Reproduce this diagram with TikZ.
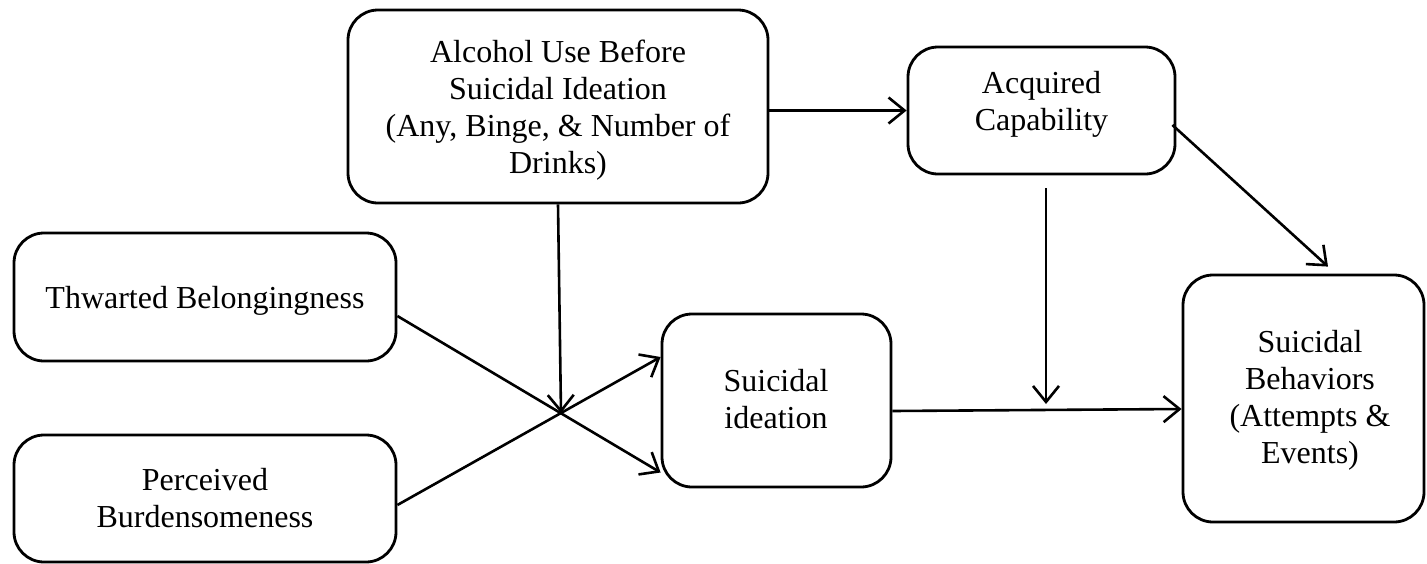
\documentclass[tikz,border=0pt]{standalone}
\usepackage{fontspec}
\setmainfont{Liberation Serif}
\usetikzlibrary{arrows.meta,calc}
\begin{document}
\begin{tikzpicture}[x=1pt,y=-1pt,
  box/.style={draw=black,line width=2.8pt,rounded corners=30pt,inner sep=0pt},
  lbl/.style={align=center,inner sep=0pt,font=\fontsize{32}{37}\selectfont},
  arr/.style={line width=2.6pt,-{Straight Barb[length=16pt,width=26pt,line width=2.6pt]}}]
\useasboundingbox (0,0) rectangle (1427,563);
% boxes
\node[box,minimum width=420pt,minimum height=193pt] (alc) at (558,106.5) {};
\node[box,minimum width=267pt,minimum height=127pt] (acq) at (1041.5,110.5) {};
\node[box,minimum width=382pt,minimum height=128pt] (thw) at (205,297) {};
\node[box,minimum width=382pt,minimum height=127pt] (per) at (205,498.5) {};
\node[box,minimum width=229pt,minimum height=173pt] (ide) at (776.5,400.5) {};
\node[box,minimum width=241pt,minimum height=247pt] (beh) at (1303.5,398.5) {};
% texts
\node[lbl] (alcT) at (558,110) {Alcohol Use Before\\Suicidal Ideation\\(Any, Binge, \& Number of\\Drinks)};
\node[lbl] (acqT) at (1041.5,104) {Acquired\\Capability};
\node[lbl] (thwT) at (205,301) {Thwarted Belongingness};
\node[lbl] (perT) at (205,498.5) {Perceived\\Burdensomeness};
\node[lbl] (ideT) at (776,399.5) {Suicidal\\ideation};
\node[lbl] (behT) at (1310,400.5) {Suicidal\\Behaviors\\(Attempts \&\\Events)};
% connectors
\coordinate (cross) at (561,413);
\coordinate (acqEnd) at (1046,404);
\draw[arr] (alc.east |- acq.west) -- (acq.west);
\draw[arr] (alc.south) -- (cross);
\draw[arr] ($(thw.east)+(0,19)$) -- ($(ide.west)+(0,72)$);
\draw[arr] ($(per.east)+(0,6.5)$) -- ($(ide.west)+(0,-43.5)$);
\draw[arr] ($(acq.east)+(-4,14.5)$) -- ($(beh.north)+(24.5,-7)$);
\draw[arr] ($(acq.south)+(4.5,13)$) -- (acqEnd);
\draw[arr] ($(ide.east)+(0,10.5)$) -- ($(beh.west)+(0,10.5)$);
\end{tikzpicture}
\end{document}
